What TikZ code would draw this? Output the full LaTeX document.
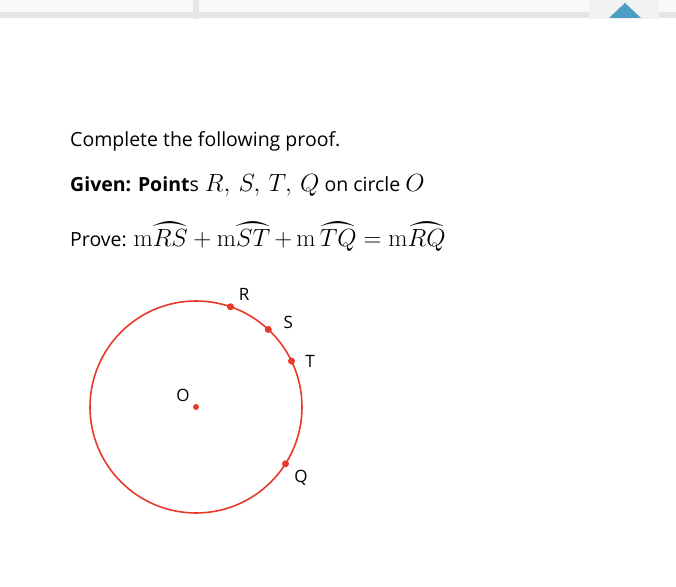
\documentclass[tikz,border=0pt]{standalone}
\usepackage[no-math]{fontspec}
\usepackage{yhmath}
\setmainfont{Open Sans}
\usetikzlibrary{positioning}

\definecolor{circred}{HTML}{E8392B}
\definecolor{barlight}{HTML}{F8F8F8}
\definecolor{bargray}{HTML}{E5E5E5}
\definecolor{barbox}{HTML}{F2F2F2}
\definecolor{tipblue}{HTML}{4A9EC4}

\newcommand{\bigmath}[1]{{\fontsize{23}{26}\selectfont$#1$}}

\tikzset{
  txt/.style={anchor=base west,inner sep=0pt,font=\fontsize{19.5}{23}\selectfont},
  dot/.style={circle,fill=circred,inner sep=0pt,minimum size=7pt},
  ptlabel/.style={inner sep=0pt,anchor=center,font=\fontsize{17}{20}\selectfont}
}

\begin{document}
\begin{tikzpicture}[x=1pt,y=1pt]
\useasboundingbox (0,0) rectangle (676,586);

% header bar
\fill[barlight] (0,574) rectangle (676,586);
\fill[bargray] (0,568) rectangle (676,574);
\fill[bargray] (193,567) rectangle (199,586);
\fill[barbox] (589,567) rectangle (659,586);
\fill[tipblue] (609,568) -- (625,583) -- (641,568) -- cycle;

% problem text
\node[txt] (head) at (70,439) {Complete the following proof.};
\node[txt] (given) at (70,394)
  {\textbf{Given: Point}s\hspace{6pt}\bigmath{R,\,S,\,T,\,Q} on circle \bigmath{O}};
\node[txt] (prove) at (70,339)
  {Prove: \bigmath{\mathrm{m}\wideparen{RS}+\mathrm{m}\wideparen{ST}\,{+}\,\mathrm{m}\,\wideparen{TQ}=\mathrm{m}\wideparen{RQ}}};

% circle and points
\coordinate (c) at (196,179);
\draw[circred,line width=1.6pt] (c) circle (106);
\node[dot,minimum size=6pt] (O) at (c) {};
\node[dot] (R) at ([shift={(71:106)}]c) {};
\node[dot] (S) at ([shift={(47:106)}]c) {};
\node[dot] (T) at ([shift={(25.7:106)}]c) {};
\node[dot] (Q) at ([shift={(-32.4:106)}]c) {};

% labels
\node[ptlabel, above left=12pt and 13pt of O.center, anchor=center] (lO) {O};
\node[ptlabel, above right=12pt and 13.5pt of R.center, anchor=center] (lR) {R};
\node[ptlabel, above right=7.5pt and 20pt of S.center, anchor=center] (lS) {S};
\node[ptlabel, right=18.5pt of T.center, anchor=center] (lT) {T};
\node[ptlabel, below right=14pt and 15.5pt of Q.center, anchor=center] (lQ) {Q};
\end{tikzpicture}
\end{document}
